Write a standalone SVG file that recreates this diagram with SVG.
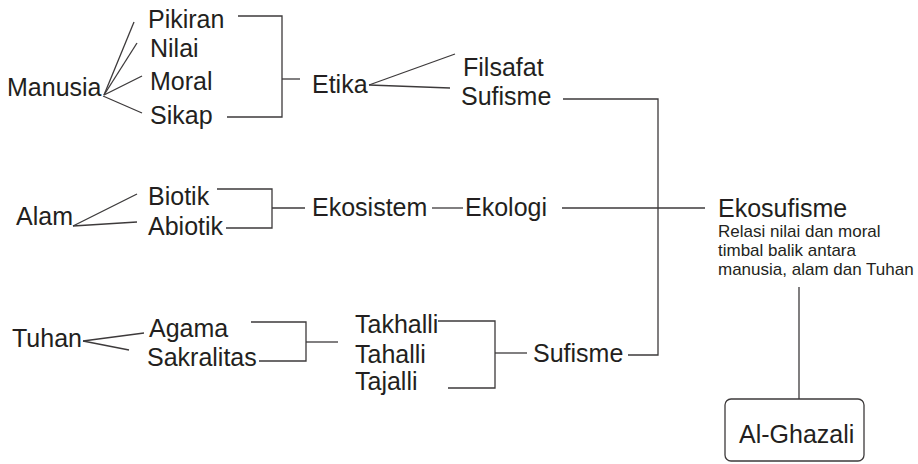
<svg xmlns="http://www.w3.org/2000/svg" width="918" height="464" viewBox="0 0 918 464">
<style>
text{font-family:"Liberation Sans",Arial,sans-serif;fill:#231f20;font-size:25px}
.s{font-size:17px}
.c line,.c polyline{stroke:#3d3a3b;stroke-width:1.3;fill:none}
.box{fill:#fff;stroke:#3d3a3b;stroke-width:1.3}
</style>
<rect width="918" height="464" fill="#fff"/>
<g class="c" id="connectors">
<line x1="104" y1="95" x2="134" y2="22"/>
<line x1="104" y1="95" x2="137" y2="43"/>
<line x1="104" y1="95" x2="142" y2="76"/>
<line x1="103" y1="96" x2="142" y2="113"/>
<polyline points="238,16 282,16 282,117 227,117"/>
<line x1="282" y1="79" x2="300" y2="79"/>
<line x1="369" y1="85" x2="455" y2="54"/>
<line x1="369" y1="85" x2="450" y2="88"/>
<polyline points="563,99 658,99 658,355 628,355"/>
<line x1="562" y1="208" x2="705" y2="208"/>
<line x1="799" y1="287" x2="799" y2="399"/>
<line x1="73" y1="226" x2="137" y2="194"/>
<line x1="73" y1="226" x2="137" y2="222"/>
<polyline points="217,189 272,189 272,228 226,228"/>
<line x1="272" y1="208" x2="305" y2="208"/>
<line x1="432" y1="208" x2="463" y2="208"/>
<line x1="83" y1="341" x2="144" y2="333"/>
<line x1="83" y1="341" x2="129" y2="350"/>
<polyline points="251,322 306,322 306,361 259,361"/>
<line x1="306" y1="342" x2="338" y2="342"/>
<polyline points="438,321 495,321 495,388 448,388"/>
<line x1="495" y1="353" x2="527" y2="353"/>
</g>
<g id="manusia"><text x="7" y="96">Manusia</text></g>
<g id="pikiran"><text x="148" y="28">Pikiran</text></g>
<g id="nilai"><text x="150" y="57">Nilai</text></g>
<g id="moral"><text x="150" y="90">Moral</text></g>
<g id="sikap"><text x="150" y="124">Sikap</text></g>
<g id="etika"><text x="312" y="93">Etika</text></g>
<g id="filsafat"><text x="463" y="76">Filsafat</text></g>
<g id="sufisme-top"><text x="461" y="105">Sufisme</text></g>
<g id="alam"><text x="16" y="225">Alam</text></g>
<g id="biotik"><text x="148" y="205">Biotik</text></g>
<g id="abiotik"><text x="148" y="235">Abiotik</text></g>
<g id="ekosistem"><text x="312" y="216">Ekosistem</text></g>
<g id="ekologi"><text x="465" y="216">Ekologi</text></g>
<g id="ekosufisme">
<text x="718" y="217">Ekosufisme</text>
<text class="s" x="718" y="237">Relasi nilai dan moral</text>
<text class="s" x="718" y="256">timbal balik antara</text>
<text class="s" x="718" y="275">manusia, alam dan Tuhan</text>
</g>
<g id="tuhan"><text x="12" y="347">Tuhan</text></g>
<g id="agama"><text x="149" y="337">Agama</text></g>
<g id="sakralitas"><text x="147" y="366">Sakralitas</text></g>
<g id="takhalli"><text x="355" y="333">Takhalli</text></g>
<g id="tahalli"><text x="355" y="363">Tahalli</text></g>
<g id="tajalli"><text x="355" y="390">Tajalli</text></g>
<g id="sufisme-bottom"><text x="533" y="362">Sufisme</text></g>
<g id="al-ghazali">
<rect class="box" x="725" y="399" width="139" height="62" rx="6"/>
<text x="739" y="443">Al-Ghazali</text>
</g>
</svg>
